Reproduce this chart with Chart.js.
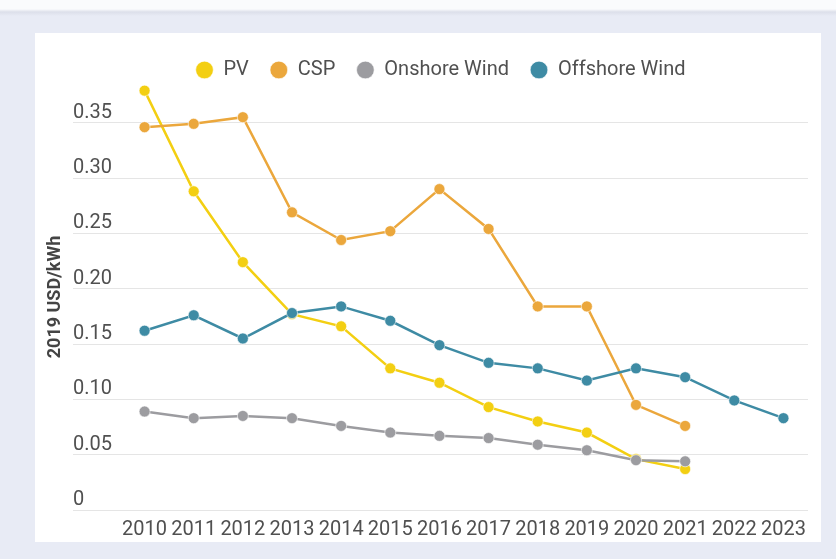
<!DOCTYPE html>
<html>
<head>
<meta charset="utf-8">
<script src="https://cdn.jsdelivr.net/npm/chart.js@4.4.1/dist/chart.umd.min.js"></script>
<style>
  html, body { margin: 0; padding: 0; }
  body {
    width: 836px;
    height: 559px;
    overflow: hidden;
    background: linear-gradient(#fafbfd 0, #fafbfd 9px, #dcdfea 12px, #e8ebf5 16px, #e8ebf5 100%);
    position: relative;
  }
  .card {
    position: absolute;
    left: 35px;
    top: 33px;
    width: 786px;
    height: 509px;
    background: #fff;
  }
</style>
</head>
<body>
<div class="card">
  <canvas id="lcoe" width="786" height="509"></canvas>
</div>
<script>
// Levelised cost of electricity, 2019 USD/kWh
const years = ['2010', '2011', '2012', '2013', '2014', '2015', '2016',
               '2017', '2018', '2019', '2020', '2021', '2022', '2023'];
const pv = [0.379, 0.288, 0.224, 0.177, 0.166, 0.128, 0.115, 0.093, 0.080, 0.070, 0.046, 0.037];
const csp = [0.346, 0.349, 0.355, 0.269, 0.244, 0.252, 0.290, 0.254, 0.184, 0.184, 0.095, 0.076];
const onshoreWind = [0.089, 0.083, 0.085, 0.083, 0.076, 0.070, 0.067, 0.065, 0.059, 0.054, 0.045, 0.044];
const offshoreWind = [0.162, 0.176, 0.155, 0.178, 0.184, 0.171, 0.149, 0.133, 0.128, 0.117, 0.128, 0.120, 0.099, 0.083];
const yTicks = [0, 0.05, 0.10, 0.15, 0.20, 0.25, 0.30, 0.35];

const textColor = '#505050';
const gridColor = '#e5e5e5';

function series(label, data, color, order) {
  return {
    label,
    data,
    order,
    borderColor: color,
    backgroundColor: color,
    borderWidth: 2.5,
    pointRadius: 5.5,
    pointHoverRadius: 6,
    pointBackgroundColor: color,
    pointBorderColor: 'rgba(255,255,255,0.6)',
    pointBorderWidth: 1,
    tension: 0,
    clip: false
  };
}

// keep the legend block at a fixed height so the plot starts where we want
const legendSpace = {
  id: 'legendSpace',
  beforeInit(chart) {
    const fit = chart.legend.fit;
    chart.legend.fit = function () {
      fit.call(this);
      this.height = 45;
    };
  }
};

new Chart(document.getElementById('lcoe'), {
  type: 'line',
  data: {
    labels: years,
    datasets: [
      series('PV', pv, '#f3cf12', 4),
      series('CSP', csp, '#eba73c', 3),
      series('Onshore Wind', onshoreWind, '#9c9ca0', 2),
      series('Offshore Wind', offshoreWind, '#3e8ba4', 1)
    ]
  },
  plugins: [legendSpace],
  options: {
    responsive: false,
    animation: false,
    layout: { padding: { left: 38, right: 13, top: 6, bottom: 4 } },
    plugins: {
      legend: {
        position: 'top',
        labels: {
          usePointStyle: true,
          pointStyle: 'circle',
          boxWidth: 18,
          boxHeight: 12.5,
          padding: 21,
          color: textColor,
          font: { family: 'Roboto', size: 20 },
          sort: (a, b) => a.datasetIndex - b.datasetIndex
        }
      },
      tooltip: { enabled: false }
    },
    scales: {
      x: {
        offset: true,
        grid: { display: false },
        border: { display: false },
        afterFit(scale) {
          scale.height = 28;
        },
        ticks: {
          color: textColor,
          padding: 0,
          maxRotation: 0,
          autoSkip: false,
          font: { family: 'Roboto', size: 20 }
        }
      },
      y: {
        min: 0,
        max: 0.385,
        afterBuildTicks(scale) {
          scale.ticks = yTicks.map(v => ({ value: v }));
        },
        afterFit(scale) {
          scale.width = 47;
        },
        grid: {
          color: gridColor,
          tickColor: gridColor,
          tickLength: 47,
          lineWidth: 1
        },
        border: { display: false },
        ticks: {
          color: textColor,
          crossAlign: 'far',
          labelOffset: -10,
          font: { family: 'Roboto', size: 20 },
          callback: v => (v === 0 ? '0' : v.toFixed(2))
        },
        title: {
          display: true,
          text: '2019 USD/kWh',
          color: '#444',
          padding: { top: -28, bottom: 0 },
          font: { family: 'Roboto', size: 18, weight: 'bold' }
        }
      }
    }
  }
});
</script>
</body>
</html>
